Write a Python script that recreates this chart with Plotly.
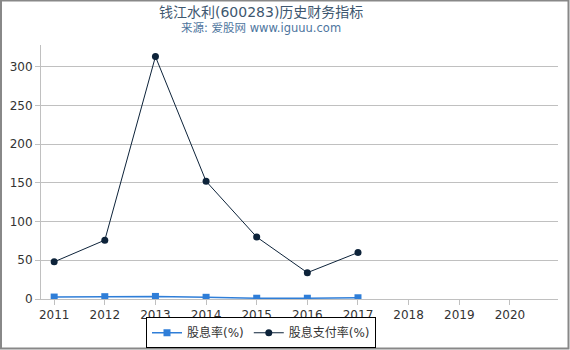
import plotly.graph_objects as go

years = [2011, 2012, 2013, 2014, 2015, 2016, 2017]
all_years = [2011, 2012, 2013, 2014, 2015, 2016, 2017, 2018, 2019, 2020]
dividend_yield = [2.5, 3.0, 3.3, 2.2, 1.0, 1.0, 1.6]
payout_ratio = [48, 76, 313, 152, 80, 34, 60]

FONT = "DejaVu Sans, Noto Sans CJK SC, sans-serif"

fig = go.Figure()
fig.add_trace(go.Scatter(
    x=years, y=dividend_yield, name="股息率(%)",
    mode="lines+markers",
    line=dict(color="#2f7ed8", width=1.5),
    marker=dict(symbol="square", size=7, color="#2f7ed8"),
))
fig.add_trace(go.Scatter(
    x=years, y=payout_ratio, name="股息支付率(%)",
    mode="lines+markers",
    line=dict(color="#0d233a", width=1),
    marker=dict(symbol="circle", size=7, color="#0d233a"),
))

# plot area: x 41..558, y 45..299
PW, PH = 517.0, 254.0
def px(x):
    return (x - 41) / PW
def py(y):
    return (299 - y) / PH

fig.update_layout(
    width=570, height=350,
    margin=dict(l=41, r=12, t=45, b=51, autoexpand=False),
    paper_bgcolor="white", plot_bgcolor="white",
    font=dict(family=FONT, color="#333333", size=12),
    showlegend=True,
    legend=dict(
        orientation="h", x=px(261), xanchor="center",
        yref="container", y=0.005, yanchor="bottom",
        bordercolor="#000000", borderwidth=1,
        font=dict(size=12, color="#333333", family=FONT),
        itemwidth=30, tracegroupgap=0,
    ),
    xaxis=dict(
        range=[2010.74, 2020.95],
        tickmode="array", tickvals=all_years, ticktext=[str(y) for y in all_years],
        showgrid=False, showline=True, linecolor="#c0c0c0", linewidth=1,
        ticks="outside", ticklen=5, tickcolor="#c0c0c0",
        tickfont=dict(size=12, color="#333333"),
        zeroline=False, automargin=False,
    ),
    yaxis=dict(
        range=[0, 328],
        tickvals=[0, 50, 100, 150, 200, 250, 300],
        showgrid=True, gridcolor="#c0c0c0", gridwidth=1,
        showline=True, linecolor="#c0c0c0", linewidth=1,
        ticks="outside", ticklen=5, tickcolor="#c0c0c0",
        tickfont=dict(size=12, color="#333333"),
        zeroline=False, automargin=False,
    ),
    annotations=[
        dict(text="钱江水利(600283)历史财务指标", xref="paper", yref="paper",
             x=px(261), y=py(12), xanchor="center", yanchor="middle",
             showarrow=False, font=dict(size=14, color="#3e576f", family=FONT)),
        dict(text="来源: 爱股网 www.iguuu.com", xref="paper", yref="paper",
             x=px(261), y=py(28), xanchor="center", yanchor="middle",
             showarrow=False, font=dict(size=11.5, color="#4d759e", family=FONT)),
    ],
    shapes=[dict(type="rect", xref="paper", yref="paper",
                 x0=px(1), x1=px(568.5), y0=py(348.5), y1=py(0.5),
                 line=dict(color="#888888", width=2), fillcolor="rgba(0,0,0,0)", layer="below")],
)

fig.write_html("out.html", config={"displayModeBar": False},
               post_script="document.body.style.margin='0';document.body.style.padding='0';")
